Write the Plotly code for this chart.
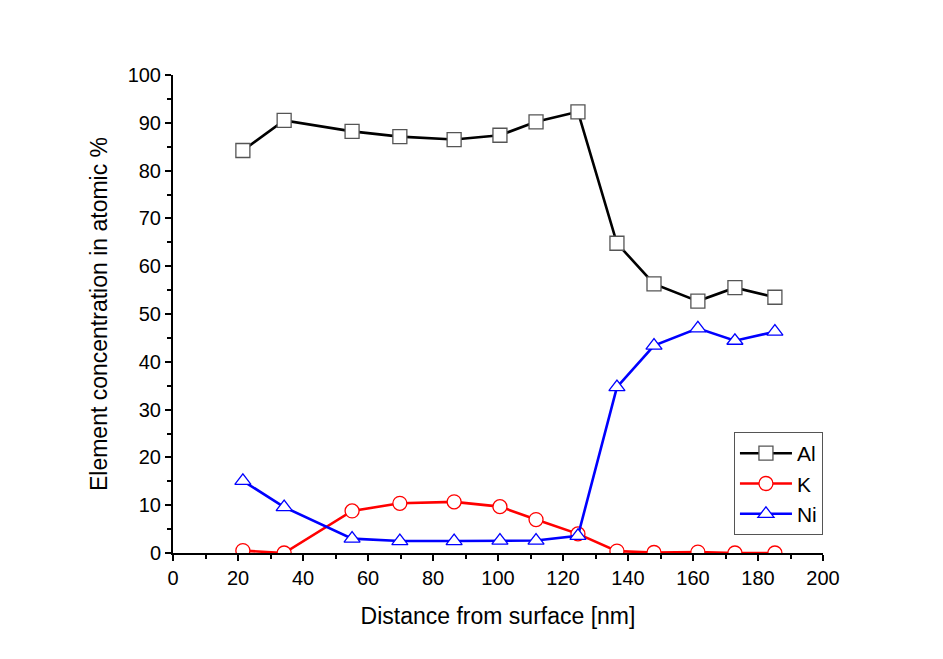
import plotly.graph_objects as go

distance = [21.5, 34.2, 55.1, 69.8, 86.5, 100.6, 111.7, 124.6, 136.6, 148.0, 161.5, 172.9, 185.2]
al = [84.2, 90.5, 88.2, 87.1, 86.5, 87.4, 90.2, 92.3, 64.8, 56.3, 52.7, 55.5, 53.5]
k = [0.5, 0.0, 8.8, 10.4, 10.7, 9.7, 7.0, 4.0, 0.4, 0.1, 0.2, 0.0, 0.0]
ni = [15.1, 9.6, 3.0, 2.5, 2.5, 2.6, 2.6, 3.6, 34.7, 43.4, 47.0, 44.4, 46.3]

series = [("Al", al, "black", "square", "#555555"),
          ("K", k, "red", "circle", "red"),
          ("Ni", ni, "blue", "triangle-up", "blue")]

fig = go.Figure()
for name, vals, col, sym, mcol in series:
    fig.add_trace(go.Scatter(
        x=distance, y=vals, name=name, mode="lines+markers",
        line=dict(color=col, width=2.6),
        marker=dict(symbol=sym, size=14, color="white",
                    line=dict(color=mcol, width=1.3)),
    ))

axis_common = dict(
    showgrid=False, zeroline=False, showline=True, linecolor="black", linewidth=2,
    ticks="outside", ticklen=6, tickwidth=2, tickcolor="black",
    tickfont=dict(family="Liberation Sans, Arial", size=20, color="black"),
    title_font=dict(family="Liberation Sans, Arial", size=23, color="black"),
)
fig.update_xaxes(range=[0, 200], dtick=20, tick0=0,
                 title_text="Distance from surface [nm]", title_standoff=20,
                 minor=dict(ticks="outside", dtick=10, ticklen=4, tickwidth=2, tickcolor="black"),
                 **axis_common)
fig.update_yaxes(range=[0, 100], dtick=10, tick0=0,
                 title_text="Element concentration in atomic %", title_standoff=14,
                 minor=dict(ticks="outside", dtick=5, ticklen=4, tickwidth=2, tickcolor="black"),
                 **axis_common)

fig.update_layout(
    width=943, height=659,
    margin=dict(l=165, r=128, t=67, b=114),
    plot_bgcolor="white", paper_bgcolor="white",
    font=dict(family="Liberation Sans, Arial", color="black"),
    legend=dict(x=0.863, y=0.253, xanchor="left", yanchor="top",
                bordercolor="#555555", borderwidth=1, bgcolor="white",
                font=dict(family="Liberation Sans, Arial", size=21, color="black"),
                itemwidth=52, tracegroupgap=0),
)

fig.write_html("out.html")
